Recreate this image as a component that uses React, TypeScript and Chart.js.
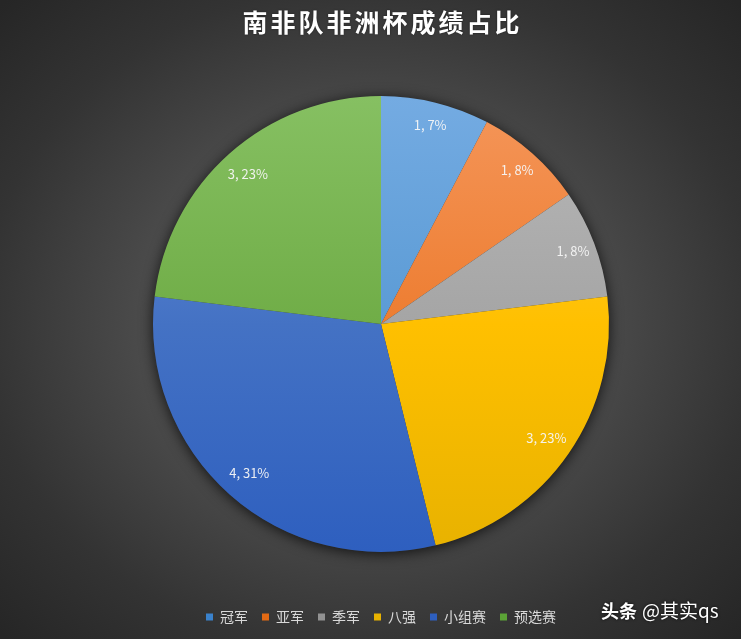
import React, { useEffect, useRef } from "react";
import { Chart, registerables } from "chart.js";

Chart.register(...registerables);

const TITLE = "南非队非洲杯成绩占比";
const categories = ["冠军", "亚军", "季军", "八强", "小组赛", "预选赛"];
const values = [1, 1, 1, 3, 4, 3];
const percentLabels = ["7%", "8%", "8%", "23%", "31%", "23%"];
const baseColors = ["#5b9bd5", "#ed7d31", "#a5a5a5", "#ffc000", "#4472c4", "#70ad47"];
const topColors = ["#74abe2", "#f5965a", "#b8b8b8", "#ffcd45", "#6a90da", "#86c062"];
const bottomColors = ["#3a82cc", "#e36a14", "#929292", "#e8b200", "#2e5fbf", "#5ba336"];
const WATERMARK_A = "头条";
const WATERMARK_B = "@其实qs";

const FONT = '"Noto Sans CJK SC", "Noto Sans", sans-serif';
const RADIUS = 228;

const titlePlugin = {
  id: "customTitle",
  afterDraw(chart: any) {
    const ctx = chart.ctx;
    ctx.save();
    try { (ctx as any).letterSpacing = "3px"; } catch (e) {}
    ctx.font = `bold 25px ${FONT}`;
    ctx.fillStyle = "#ffffff";
    ctx.shadowColor = "rgba(0,0,0,0.5)";
    ctx.shadowBlur = 2;
    ctx.textAlign = "center";
    ctx.textBaseline = "middle";
    const area = chart.chartArea;
    const cx = (area.left + area.right) / 2;
    ctx.fillText(TITLE, cx + 1.5, 22);
    ctx.restore();
  },
};

const shadowPlugin = {
  id: "pieShadow",
  beforeDatasetsDraw(chart: any) {
    const arc = chart.getDatasetMeta(0).data[0];
    if (!arc) return;
    const ctx = chart.ctx;
    ctx.save();
    ctx.shadowColor = "rgba(0,0,0,0.75)";
    ctx.shadowBlur = 14;
    ctx.shadowOffsetX = 0;
    ctx.shadowOffsetY = 2;
    ctx.beginPath();
    ctx.arc(arc.x, arc.y, arc.outerRadius, 0, Math.PI * 2);
    ctx.fillStyle = "#333";
    ctx.fill();
    ctx.restore();
  },
};

const labelPlugin = {
  id: "sliceLabels",
  afterDatasetsDraw(chart: any) {
    const ctx = chart.ctx;
    const meta = chart.getDatasetMeta(0);
    ctx.save();
    ctx.font = `13px ${FONT}`;
    ctx.fillStyle = "rgba(245,245,245,0.95)";
    ctx.textAlign = "center";
    ctx.textBaseline = "middle";
    meta.data.forEach((arc: any, i: number) => {
      const mid = (arc.startAngle + arc.endAngle) / 2;
      const span = arc.endAngle - arc.startAngle;
      const r = arc.outerRadius * (0.91 - span * 0.02);
      const x = arc.x + Math.cos(mid) * r;
      const y = arc.y + Math.sin(mid) * r;
      ctx.fillText(`${values[i]}, ${percentLabels[i]}`, x, y);
    });
    ctx.restore();
  },
};

const watermarkPlugin = {
  id: "watermark",
  afterDraw(chart: any) {
    const ctx = chart.ctx;
    ctx.save();
    ctx.shadowColor = "rgba(0,0,0,0.8)";
    ctx.shadowBlur = 3;
    ctx.fillStyle = "#ffffff";
    ctx.textBaseline = "alphabetic";
    ctx.textAlign = "left";
    ctx.font = `bold 18px ${FONT}`;
    ctx.fillText(WATERMARK_A, 601, 618);
    const w = ctx.measureText(WATERMARK_A).width;
    ctx.font = `19px ${FONT}`;
    ctx.fillText(WATERMARK_B, 601 + w + 5, 618);
    ctx.restore();
  },
};

export default function App() {
  const ref = useRef<HTMLCanvasElement>(null);
  useEffect(() => {
    if (!ref.current) return;
    const chart = new Chart(ref.current, {
      type: "pie",
      data: {
        labels: categories,
        datasets: [
          {
            data: values,
            backgroundColor: (c: any) => {
              const ch = c.chart;
              const area = ch.chartArea;
              const i = c.dataIndex % baseColors.length;
              if (!area) return baseColors[i];
              const cy = (area.top + area.bottom) / 2;
              const g = ch.ctx.createLinearGradient(0, cy - RADIUS, 0, cy + RADIUS);
              g.addColorStop(0, topColors[i]);
              g.addColorStop(0.5, baseColors[i]);
              g.addColorStop(1, bottomColors[i]);
              return g;
            },
            borderWidth: 0,
          },
        ],
      },
      options: {
        animation: false,
        responsive: true,
        maintainAspectRatio: false,
        radius: RADIUS,
        layout: { padding: { left: 21, right: 0, top: 52, bottom: 5 } },
        plugins: {
          title: { display: false },
          legend: {
            position: "bottom",
            labels: {
              color: "#d9d9d9",
              font: { family: FONT, size: 14 },
              boxWidth: 7,
              boxHeight: 7,
              padding: 14,
            },
          },
          tooltip: { enabled: false },
        },
      },
      plugins: [shadowPlugin, labelPlugin, titlePlugin, watermarkPlugin],
    });
    return () => chart.destroy();
  }, []);

  return (
    <div
      style={{
        position: "fixed",
        left: 0,
        top: 0,
        width: 741,
        height: 639,
        background:
          "radial-gradient(ellipse 70% 70% at 50% 50%, #5a5a5a 0%, #4a4a4a 45%, #333333 75%, #262626 100%)",
      }}
    >
      <canvas ref={ref} />
    </div>
  );
}
